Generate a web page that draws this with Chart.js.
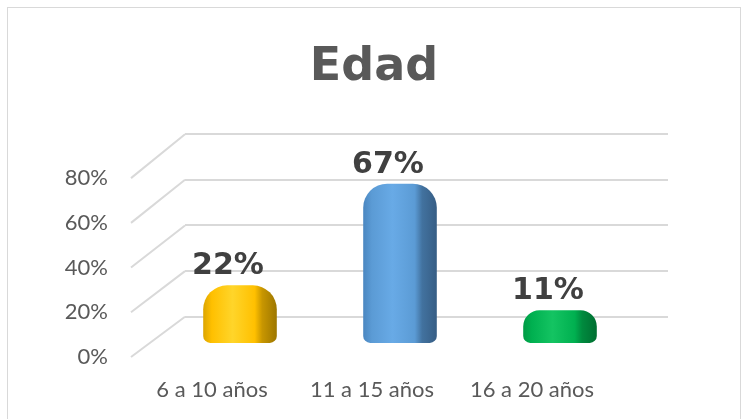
<!DOCTYPE html>
<html>
<head>
<meta charset="utf-8">
<script src="https://cdn.jsdelivr.net/npm/chart.js@4.4.0/dist/chart.umd.min.js"></script>
<style>
html, body { margin: 0; padding: 0; background: #fff; overflow: hidden; }
#box { position: absolute; left: 7px; top: 7px; width: 732px; height: 420px; border: 1px solid #d9d9d9; }
</style>
</head>
<body>
<div id="box"><canvas id="chart" width="732" height="420"></canvas></div>
<script>
// data
var categories = ['6 a 10 años', '11 a 15 años', '16 a 20 años'];
var values = [22, 67, 11];
var yTicks = [0, 20, 40, 60, 80];

// gradient stops per bar: edge, face, highlight, face, shade, side
var barShades = [
	['#dba400', '#ffc000', '#ffd52a', '#ffc000', '#c89600', '#9c7600'],
	['#4a86c0', '#5b9bd5', '#68aae6', '#5b9bd5', '#42729f', '#365d84'],
	['#009a45', '#00b050', '#14c462', '#00b050', '#008a3e', '#006e31']
];
var stopPos = [0, 0.12, 0.4, 0.7, 0.8, 1];
var gridColor = '#d9d9d9';
var inkDark = '#404040';
var inkMid = '#595959';

function barFill(ctx) {
	var chart = ctx.chart;
	var s = barShades[ctx.dataIndex];
	if (!chart.chartArea) return s[1];
	var x = chart.scales.x.getPixelForValue(ctx.dataIndex);
	var g = chart.ctx.createLinearGradient(x - 37, 0, x + 37, 0);
	for (var i = 0; i < s.length; i++) g.addColorStop(stopPos[i], s[i]);
	return g;
}

// diagonal floor/wall lines joining the front labels to the back grid
var wallLines = {
	id: 'wallLines',
	beforeDatasetsDraw: function(chart) {
		var c = chart.ctx, a = chart.chartArea;
		var yb = chart.scales.yBack, yf = chart.scales.yFront;
		c.save();
		c.strokeStyle = gridColor;
		c.lineWidth = 2;
		yTicks.forEach(function(v) {
			c.beginPath();
			c.moveTo(a.left, yb.getPixelForValue(v));
			c.lineTo(a.left - 54, yf.getPixelForValue(v));
			c.stroke();
		});
		c.restore();
	}
};

var barLabels = {
	id: 'barLabels',
	afterDatasetsDraw: function(chart) {
		var c = chart.ctx;
		var meta = chart.getDatasetMeta(0);
		c.save();
		c.font = 'bold 30px "DejaVu Sans"';
		c.fillStyle = inkDark;
		c.textAlign = 'center';
		c.textBaseline = 'alphabetic';
		meta.data.forEach(function(bar, i) {
			c.fillText(values[i] + '%', bar.x - 12, bar.y - 11);
		});
		c.restore();
	}
};

function fixTicks(scale) {
	scale.ticks = yTicks.map(function(v) { return { value: v }; });
}

var chart = new Chart(document.getElementById('chart'), {
	type: 'bar',
	data: {
		datasets: [{
			data: categories.map(function(c, i) { return { x: i, y: values[i] }; }),
			yAxisID: 'yBar',
			base: -3.5,
			backgroundColor: barFill,
			borderWidth: 0,
			borderSkipped: false,
			borderRadius: { topLeft: 24, topRight: 24, bottomLeft: 7, bottomRight: 7 },
			barPercentage: 0.46,
			categoryPercentage: 1
		}]
	},
	options: {
		responsive: false,
		animation: false,
		layout: { padding: 0 },
		plugins: {
			legend: { display: false },
			tooltip: { enabled: false },
			title: {
				display: true,
				text: 'Edad',
				color: inkMid,
				font: { family: '"DejaVu Sans"', size: 46, weight: 'bold', lineHeight: 1.2 },
				padding: { top: 32, bottom: 25 }
			}
		},
		scales: {
			x: {
				type: 'linear',
				position: 'bottom',
				offset: false,
				min: -0.34375,
				max: 2.675,
				afterBuildTicks: function(scale) {
					scale.ticks = categories.map(function(c, i) { return { value: i }; });
				},
				afterFit: function(scale) { scale.height = 66; },
				grid: { display: false, drawTicks: false },
				border: { display: false },
				ticks: {
					padding: 15,
					labelOffset: -28,
					color: inkMid,
					font: { family: 'Lato', size: 22 },
					callback: function(v) { return categories[v]; }
				}
			},
			yFront: {
				position: 'left',
				weight: 1,
				min: -2.235,
				max: 105.92,
				afterBuildTicks: fixTicks,
				afterFit: function(scale) { scale.width = 103; },
				grid: { display: false, drawTicks: false },
				border: { display: false },
				ticks: {
					padding: 3,
					color: inkMid,
					font: { family: 'Lato', size: 22 },
					callback: function(v) { return v + '%'; }
				}
			},
			yBar: {
				position: 'left',
				weight: 0,
				min: -11.95,
				max: 95.13,
				afterFit: function(scale) { scale.width = 74; },
				grid: { display: false, drawTicks: false },
				border: { display: false },
				ticks: { display: false }
			},
			yBack: {
				position: 'right',
				min: -19.83,
				max: 86.13,
				afterBuildTicks: fixTicks,
				afterFit: function(scale) { scale.width = 72; },
				grid: { color: gridColor, lineWidth: 2, drawTicks: false },
				border: { display: false },
				ticks: { display: false }
			}
		}
	},
	plugins: [wallLines, barLabels]
});
</script>
</body>
</html>
